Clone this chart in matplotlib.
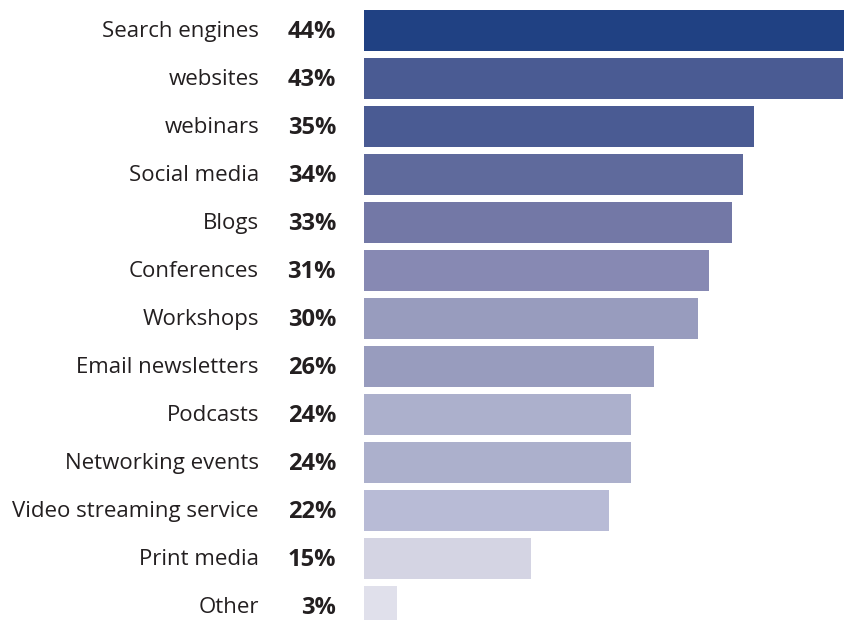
import matplotlib
matplotlib.use("Agg")
import matplotlib.pyplot as plt

categories = ["Search engines", "websites", "webinars", "Social media", "Blogs",
              "Conferences", "Workshops", "Email newsletters", "Podcasts",
              "Networking events", "Video streaming service", "Print media", "Other"]
shares = [44, 43, 35, 34, 33, 31, 30, 26, 24, 24, 22, 15, 3]
bar_colors = ["#204183", "#4a5b93", "#4a5b93", "#5f6a9c", "#7378a6", "#8789b3",
              "#989cbe", "#989cbe", "#acb0cc", "#acb0cc", "#b8bbd6", "#d4d4e3", "#e0e0eb"]

W, H = 845, 620
fig = plt.figure(figsize=(W / 100, H / 100), dpi=100)
x0 = 364
ax = fig.add_axes([x0 / W, 0, 1 - x0 / W, 1])

pitch = 48.0
first_center = 30.5
ypos = list(range(len(categories)))
ax.barh(ypos, shares, height=41 / pitch, color=bar_colors, linewidth=0)
ax.set_xlim(0, (W - x0) / 11.14)
ax.set_ylim((H - first_center) / pitch, -first_center / pitch)
ax.axis("off")

text_color = "#231f20"
for i, (cat, v) in enumerate(zip(categories, shares)):
    yc = H - (first_center + i * pitch) - 1
    ax.text(259, yc, cat, transform=None,
            ha="right", va="center", fontsize=16.0, family="Open Sans",
            color=text_color)
    ax.text(336, yc, f"{v}%", transform=None,
            ha="right", va="center", fontsize=17.0, family="Open Sans",
            fontweight="bold", color=text_color)

fig.savefig("out.png", dpi=100)
